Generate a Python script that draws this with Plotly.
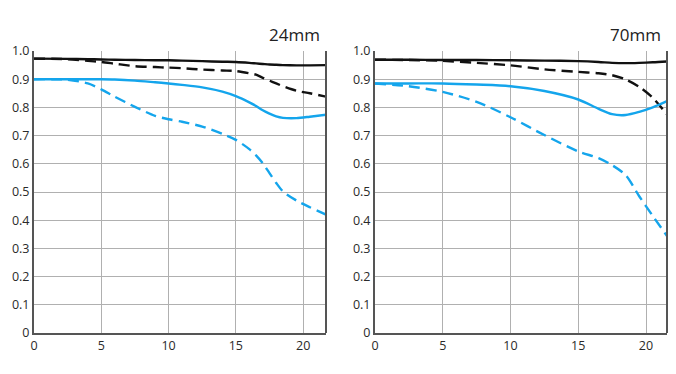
import plotly.graph_objects as go

# ---- data ----
x24 = [0, 2.5, 4, 5, 6, 7.5, 9, 10, 11, 12.5, 14, 15, 16, 16.5, 17, 17.5, 18, 18.5, 19.5, 20.5, 21.7]
s24_black_solid = [0.973, 0.972, 0.971, 0.970, 0.969, 0.968, 0.967, 0.967, 0.966, 0.964, 0.962, 0.961, 0.958, 0.956, 0.954, 0.952, 0.951, 0.950, 0.949, 0.949, 0.950]
s24_black_dash = [0.973, 0.971, 0.965, 0.961, 0.955, 0.946, 0.943, 0.941, 0.939, 0.934, 0.931, 0.929, 0.921, 0.916, 0.905, 0.895, 0.885, 0.875, 0.859, 0.850, 0.838]
s24_blue_solid = [0.900, 0.900, 0.900, 0.900, 0.899, 0.895, 0.889, 0.885, 0.880, 0.871, 0.856, 0.840, 0.818, 0.805, 0.790, 0.778, 0.768, 0.763, 0.762, 0.767, 0.774]
s24_blue_dash = [0.900, 0.898, 0.885, 0.864, 0.838, 0.802, 0.770, 0.758, 0.749, 0.732, 0.706, 0.685, 0.652, 0.630, 0.602, 0.567, 0.532, 0.502, 0.470, 0.446, 0.420]

x70 = [0, 2.5, 5, 7.5, 10, 12.5, 15, 16.5, 17.5, 18.5, 19.5, 20.5, 21.55]
s70_black_solid = [0.969, 0.969, 0.968, 0.968, 0.967, 0.966, 0.964, 0.961, 0.958, 0.957, 0.958, 0.960, 0.963]
s70_black_dash = [0.969, 0.968, 0.965, 0.958, 0.949, 0.935, 0.926, 0.921, 0.914, 0.899, 0.873, 0.834, 0.775]
s70_blue_solid = [0.885, 0.885, 0.885, 0.881, 0.875, 0.858, 0.828, 0.795, 0.776, 0.773, 0.784, 0.800, 0.822]
s70_blue_dash = [0.885, 0.875, 0.855, 0.820, 0.765, 0.702, 0.644, 0.620, 0.595, 0.560, 0.485, 0.415, 0.344]

y_ticks = [0, 0.1, 0.2, 0.3, 0.4, 0.5, 0.6, 0.7, 0.8, 0.9, 1.0]
y_ticktext = ["0", "0.1", "0.2", "0.3", "0.4", "0.5", "0.6", "0.7", "0.8", "0.9", "1.0"]
x_ticks = [0, 5, 10, 15, 20]
x_ticktext = ["0", "5", "10", "15", "20"]
titles = ["24mm", "70mm"]

BLACK = "#111111"
BLUE = "#14a5ec"

fig = go.Figure()

def add(x, y, color, dash, xa, ya):
    fig.add_trace(go.Scatter(x=x, y=y, mode="lines", xaxis=xa, yaxis=ya,
                             line=dict(color=color, width=2.4, dash=dash, shape="spline", smoothing=0.8),
                             showlegend=False, hoverinfo="skip"))

DASH = "11px,6px"
add(x24, s24_black_solid, BLACK, "solid", "x", "y")
add(x24, s24_black_dash, BLACK, DASH, "x", "y")
add(x24, s24_blue_solid, BLUE, "solid", "x", "y")
add(x24, s24_blue_dash, BLUE, DASH, "x", "y")
add(x70, s70_black_solid, BLACK, "solid", "x2", "y2")
add(x70, s70_black_dash, BLACK, DASH, "x2", "y2")
add(x70, s70_blue_solid, BLUE, "solid", "x2", "y2")
add(x70, s70_blue_dash, BLUE, DASH, "x2", "y2")

ydom = [1 - 333/374, 1 - 51/374]
common_x = dict(tickvals=x_ticks, ticktext=x_ticktext, showgrid=True, gridcolor="#b0b0b0", gridwidth=1.3,
                showline=True, linecolor="#555555", linewidth=2, zeroline=False, ticks="",
                automargin=False,
                tickfont=dict(family="Open Sans", size=12.5, color="#2a2a2a"))
common_y = dict(range=[0, 1.0], tickvals=y_ticks, ticktext=y_ticktext, showgrid=True, gridcolor="#b0b0b0",
                gridwidth=1.3, showline=True, linecolor="#555555", linewidth=2, zeroline=False, ticks="",
                automargin=False,
                domain=ydom, tickfont=dict(family="Open Sans", size=12.5, color="#2a2a2a"))

fig.update_layout(
    width=676, height=374,
    margin=dict(l=0, r=0, t=0, b=0),
    paper_bgcolor="white", plot_bgcolor="white",
    xaxis=dict(domain=[34/676, 326/676], range=[0, 21.7], anchor="y", **common_x),
    yaxis=dict(anchor="x", **common_y),
    xaxis2=dict(domain=[375/676, 667/676], range=[0, 21.55], anchor="y2", **common_x),
    yaxis2=dict(anchor="x2", **common_y),
)

# right border of each panel
for xr, yr in [("x", "y"), ("x2", "y2")]:
    fig.add_shape(type="line", xref=f"{xr} domain", yref=f"{yr} domain", x0=1, x1=1, y0=0, y1=1,
                  line=dict(color="#555555", width=2))

fig.add_annotation(text=titles[0], xref="paper", yref="paper", x=322/676, y=1 - 48/374,
                   xanchor="right", yanchor="bottom", showarrow=False,
                   font=dict(family="Open Sans", size=17, color="#222222"))
fig.add_annotation(text=titles[1], xref="paper", yref="paper", x=663/676, y=1 - 48/374,
                   xanchor="right", yanchor="bottom", showarrow=False,
                   font=dict(family="Open Sans", size=17, color="#222222"))

fig.write_html("out.html", config={"displayModeBar": False},
               post_script="document.body.style.margin='0';document.body.style.overflow='hidden';")
